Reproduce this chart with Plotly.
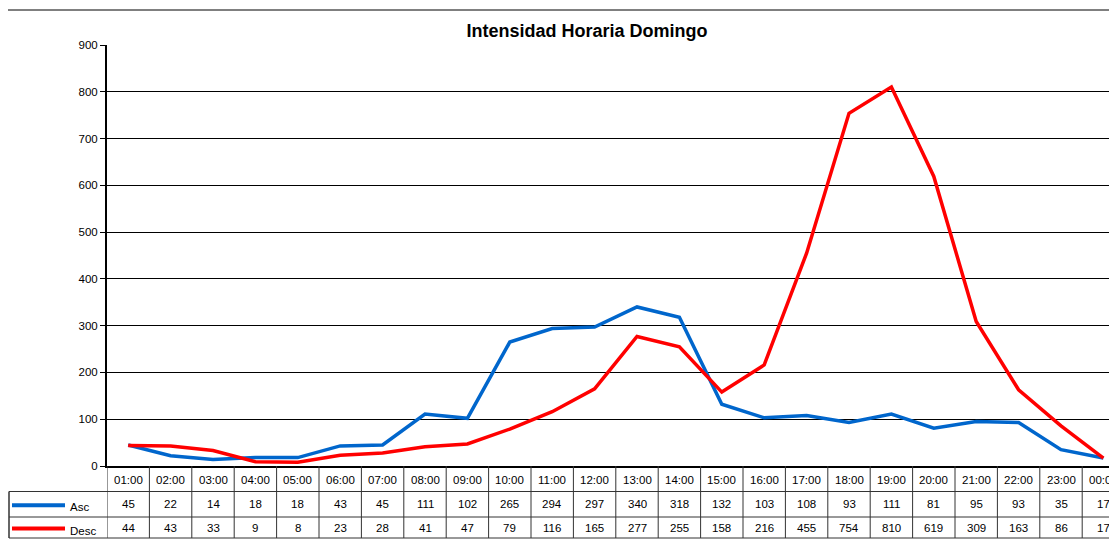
import plotly.graph_objects as go

hours = ["01:00", "02:00", "03:00", "04:00", "05:00", "06:00", "07:00", "08:00",
         "09:00", "10:00", "11:00", "12:00", "13:00", "14:00", "15:00", "16:00",
         "17:00", "18:00", "19:00", "20:00", "21:00", "22:00", "23:00", "00:00"]
asc = [45, 22, 14, 18, 18, 43, 45, 111, 102, 265, 294, 297, 340, 318, 132, 103,
       108, 93, 111, 81, 95, 93, 35, 17]
desc = [44, 43, 33, 9, 8, 23, 28, 41, 47, 79, 116, 165, 277, 255, 158, 216,
        455, 754, 810, 619, 309, 163, 86, 17]
series_names = ["Asc", "Desc"]
series_colors = ["#0066CC", "#FF0000"]
title = "Intensidad Horaria Domingo"

# page body has an 8px margin; design in screenshot pixels and shift
OFF = 8
W, H = 1117 - OFF, 541 - OFF
L, R, T, B = 107, 1117, 45, 466          # plot area in screenshot pixels
COLW = 42.4

def pxx(p):
    return (p - L) / (R - L)

def pxy(p):
    return (B - p) / (B - T)

idx = list(range(len(hours)))
fig = go.Figure()
for name, vals, col in zip(series_names, [asc, desc], series_colors):
    fig.add_trace(go.Scatter(x=idx, y=vals, mode="lines", name=name,
                             line=dict(color=col, width=3.5), showlegend=False))

shapes = []
annotations = []
FONT = dict(family="Liberation Sans, Arial", size=11.5, color="black")
LINEC = "#333333"

row_top = B
row_h1 = 491.5
row_h2 = 517
row_bot = 538

for i in range(len(hours) + 1):
    shapes.append(dict(type="line", xref="x", yref="paper", x0=i - 0.5, x1=i - 0.5,
                       y0=pxy(row_top), y1=pxy(row_bot), line=dict(color=LINEC, width=1)))
for yy in [row_h1, row_h2, row_bot]:
    shapes.append(dict(type="line", xref="paper", yref="paper", x0=pxx(9), x1=1.02,
                       y0=pxy(yy), y1=pxy(yy), line=dict(color=LINEC, width=1)))
shapes.append(dict(type="line", xref="paper", yref="paper", x0=pxx(9), x1=pxx(9),
                   y0=pxy(row_h1), y1=pxy(row_bot), line=dict(color=LINEC, width=1.5)))
# outer chart border (left + top)
shapes.append(dict(type="line", xref="paper", yref="paper", x0=pxx(3), x1=pxx(3),
                   y0=pxy(10), y1=pxy(545), line=dict(color="black", width=1)))
shapes.append(dict(type="line", xref="paper", yref="paper", x0=pxx(3), x1=1.02,
                   y0=pxy(10), y1=pxy(10), line=dict(color="black", width=1)))

for i, h in enumerate(hours):
    annotations.append(dict(x=i, y=pxy((row_top + row_h1) / 2 + 1), xref="x", yref="paper",
                            text=h, showarrow=False, font=FONT, xanchor="center", yanchor="middle"))
for vals, yc in zip([asc, desc], [(row_h1 + row_h2) / 2, (row_h2 + row_bot) / 2]):
    for i, v in enumerate(vals):
        annotations.append(dict(x=i, y=pxy(yc), xref="x", yref="paper", text=str(v),
                                showarrow=False, font=FONT, xanchor="center", yanchor="middle"))
for name, col, yc in zip(series_names, series_colors,
                         [(row_h1 + row_h2) / 2 + 1, (row_h2 + row_bot) / 2 + 1]):
    shapes.append(dict(type="line", xref="paper", yref="paper", x0=pxx(12), x1=pxx(65),
                       y0=pxy(yc), y1=pxy(yc), line=dict(color=col, width=4)))
    annotations.append(dict(x=pxx(68), y=pxy(yc + 2), xref="paper", yref="paper", text=name,
                            showarrow=False, font=FONT, xanchor="left", yanchor="middle"))

fig.update_layout(
    width=W, height=H,
    margin=dict(l=L - OFF, r=1117 - R, t=T - OFF, b=541 - B, pad=0),
    paper_bgcolor="white", plot_bgcolor="white",
    title=dict(text="<b>" + title + "</b>", x=(587 - OFF) / W, xanchor="center",
               y=1 - (31 - OFF) / H, yanchor="middle",
               font=dict(family="Liberation Sans, Arial", size=18, color="black")),
    xaxis=dict(range=[-0.5, -0.5 + (R - L) / COLW], showticklabels=False, showgrid=False,
               zeroline=False, showline=True, linecolor="black", linewidth=2, ticks=""),
    yaxis=dict(range=[0, 900], dtick=100, tick0=0, showgrid=True, gridcolor="black", gridwidth=1,
               zeroline=False, showline=True, linecolor="black", linewidth=2,
               ticks="outside", ticklen=5, tickcolor="black", tickwidth=1,
               tickfont=FONT),
    shapes=shapes, annotations=annotations,
)

fig.write_html("out.html")
